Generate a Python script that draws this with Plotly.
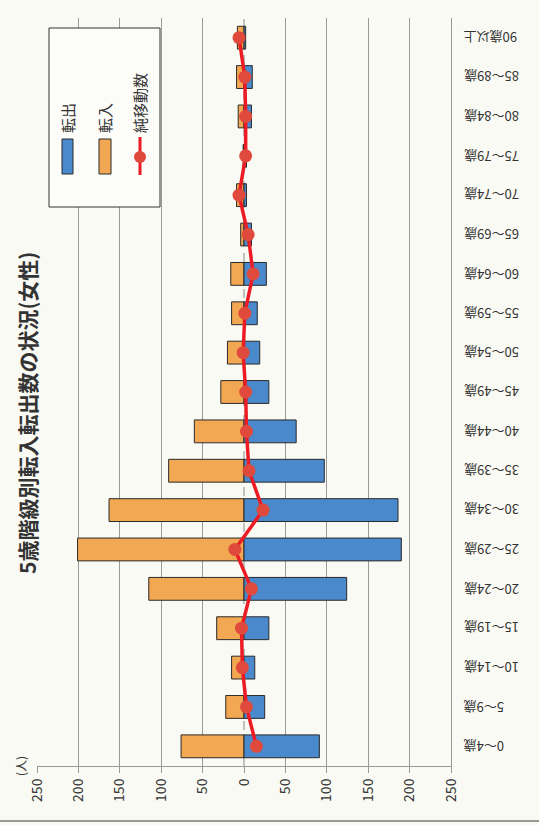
import plotly.graph_objects as go

categories = ["0～4歳", "5～9歳", "10～14歳", "15～19歳", "20～24歳", "25～29歳",
              "30～34歳", "35～39歳", "40～44歳", "45～49歳", "50～54歳", "55～59歳",
              "60～64歳", "65～69歳", "70～74歳", "75～79歳", "80～84歳", "85～89歳",
              "90歳以上"]
tennyu = [76, 22, 15, 33, 115, 201, 163, 91, 60, 28, 20, 15, 16, 4, 9, 1, 7, 9, 8]
tenshutsu = [91, 25, 13, 30, 124, 190, 186, 97, 63, 30, 19, 16, 27, 9, 3, 3, 9, 10, 2]
net = [-15, -3, 2, 3, -9, 11, -23, -6, -3, -2, 1, -1, -11, -5, 6, -2, -2, -1, 6]
tick_vals = [-250, -200, -150, -100, -50, 0, 50, 100, 150, 200, 250]
tick_text = [str(abs(v)) for v in tick_vals]
title_text = "5歳階級別転入転出数の状況(女性)"
unit_text = "(人)"
legend_names = ["転出", "転入", "純移動数"]

W, H = 539, 825
L, R, T, B = 37, 451, 18, 766
FONT = "Noto Sans CJK JP"
BG = "#fafaf4"
BLUE = "#4a89cc"
ORANGE = "#f2a752"
RED = "#ec1c24"
MARK = "#e04a3c"


def px_x(x):
    return (x - L) / (R - L)


def px_y(y):
    return (B - y) / (B - T)


fig = go.Figure()
fig.add_trace(go.Bar(y=categories, x=tennyu, orientation="h", name=legend_names[1],
                     marker=dict(color=ORANGE, line=dict(color="#2a2a2a", width=1))))
fig.add_trace(go.Bar(y=categories, x=[-v for v in tenshutsu], orientation="h",
                     name=legend_names[0],
                     marker=dict(color=BLUE, line=dict(color="#2a2a2a", width=1))))
fig.add_trace(go.Scatter(y=categories, x=net, mode="lines+markers", name=legend_names[2],
                         line=dict(color=RED, width=3.5),
                         marker=dict(color=MARK, size=13)))

minor_vals = [v for v in tick_vals if v != 0]

fig.update_layout(
    width=W, height=H,
    margin=dict(l=L, r=W - R, t=T, b=H - B),
    paper_bgcolor=BG, plot_bgcolor=BG,
    barmode="relative", bargap=0.42,
    showlegend=False,
    font=dict(family=FONT, color="#333333"),
    xaxis=dict(range=[250, -250], tickvals=tick_vals, ticktext=tick_text,
               tickangle=-90, tickfont=dict(size=14, color="#333333"),
               showgrid=False, zeroline=False, automargin=False,
               showline=True, linecolor="#999999", linewidth=1,
               ticks="outside", ticklen=6, tickcolor="#999999",
               minor=dict(tickvals=minor_vals, showgrid=True, gridcolor="#9a9a9a",
                          gridwidth=1, ticks="")),
    yaxis=dict(categoryorder="array", categoryarray=categories,
               range=[-0.5, len(categories) - 0.5],
               side="right", showticklabels=False, automargin=False,
               showgrid=False, zeroline=False,
               showline=True, linecolor="#999999", linewidth=1, ticks=""),
)

shapes = []
# dashed zero reference line
shapes.append(dict(type="line", xref="x", yref="paper", x0=0, x1=0, y0=0, y1=1,
                   line=dict(color="#888888", width=1, dash="dash"), layer="below"))
# legend frame
shapes.append(dict(type="rect", xref="paper", yref="paper",
                   x0=px_x(49), x1=px_x(160), y0=px_y(207), y1=px_y(28),
                   fillcolor="#fcfcf8", line=dict(color="#333333", width=1)))
# legend swatches
shapes.append(dict(type="rect", xref="paper", yref="paper",
                   x0=px_x(62), x1=px_x(73), y0=px_y(174), y1=px_y(139),
                   fillcolor=BLUE, line=dict(color="#2a2a2a", width=1)))
shapes.append(dict(type="rect", xref="paper", yref="paper",
                   x0=px_x(99), x1=px_x(111), y0=px_y(174), y1=px_y(139),
                   fillcolor=ORANGE, line=dict(color="#2a2a2a", width=1)))
shapes.append(dict(type="line", xref="paper", yref="paper",
                   x0=px_x(140), x1=px_x(140), y0=px_y(175), y1=px_y(137),
                   line=dict(color=RED, width=3)))
shapes.append(dict(type="circle", xref="paper", yref="paper",
                   x0=px_x(134), x1=px_x(146), y0=px_y(163), y1=px_y(151),
                   fillcolor=MARK, line=dict(color=MARK, width=0)))
# bottom page edge line
shapes.append(dict(type="line", xref="paper", yref="paper",
                   x0=px_x(0), x1=px_x(W), y0=px_y(821), y1=px_y(821),
                   line=dict(color="#777777", width=1.5)))
fig.update_layout(shapes=shapes)

annotations = [
    dict(text="<b>" + title_text + "</b>", xref="paper", yref="paper", x=px_x(27), y=px_y(413),
         xanchor="center", yanchor="middle", textangle=-90, showarrow=False,
         font=dict(size=21, color="#333333", family=FONT)),
    dict(text=unit_text, xref="paper", yref="paper", x=px_x(20), y=px_y(766),
         xanchor="center", yanchor="middle", textangle=-90, showarrow=False,
         font=dict(size=12, color="#333333", family=FONT)),
    dict(text=legend_names[0], xref="paper", yref="paper", x=px_x(68), y=px_y(135),
         xanchor="center", yanchor="bottom", textangle=-90, showarrow=False,
         font=dict(size=15, color="#333333", family=FONT)),
    dict(text=legend_names[1], xref="paper", yref="paper", x=px_x(105), y=px_y(135),
         xanchor="center", yanchor="bottom", textangle=-90, showarrow=False,
         font=dict(size=15, color="#333333", family=FONT)),
    dict(text=legend_names[2], xref="paper", yref="paper", x=px_x(140), y=px_y(135),
         xanchor="center", yanchor="bottom", textangle=-90, showarrow=False,
         font=dict(size=15, color="#333333", family=FONT)),
]
# category labels (shown rotated 180 degrees, as in the reference)
for c in categories:
    annotations.append(dict(text=c, xref="paper", yref="y", x=px_x(462), y=c,
                            xanchor="left", yanchor="middle", textangle=180,
                            showarrow=False,
                            font=dict(size=13, color="#333333", family=FONT)))
fig.update_layout(annotations=annotations)

fig.write_html(
    "out.html",
    config={"displayModeBar": False},
    post_script="document.body.style.margin='0';document.body.style.background='" + BG + "';",
)
